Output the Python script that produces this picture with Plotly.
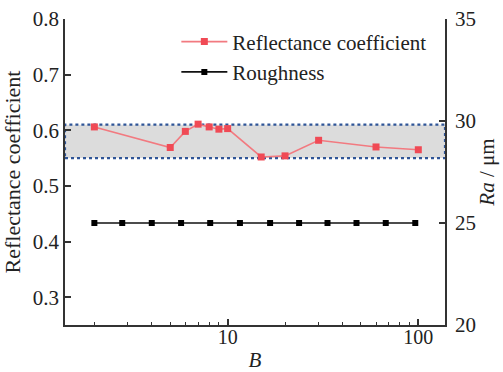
import plotly.graph_objects as go

# Data
b_refl = [2, 5, 6, 7, 8, 9, 10, 15, 20, 30, 60, 100]
refl = [0.606, 0.569, 0.598, 0.611, 0.606, 0.602, 0.603, 0.552, 0.554, 0.582, 0.570, 0.565]
b_rough = [2.0, 2.8, 4.0, 5.7, 8.1, 11.6, 16.7, 23.7, 33.4, 47.4, 67.5, 96.4]
rough = [25, 25, 25, 25, 25, 25, 25, 25, 25, 25, 25, 25]
band = [0.55, 0.61]
x_major = [10, 100]
x_minor = [2, 3, 4, 5, 6, 7, 8, 9, 20, 30, 40, 50, 60, 70, 80, 90]
y_left_ticks = [0.3, 0.4, 0.5, 0.6, 0.7, 0.8]
y_right_ticks = [20, 25, 30, 35]

FONT = "Liberation Serif"
AX = "#333333"
TXT = "#222222"

def f(size):
    return dict(family=FONT, size=size, color=TXT)

fig = go.Figure()
fig.add_trace(go.Scatter(
    x=b_refl, y=refl, mode="lines+markers", name="Reflectance coefficient",
    line=dict(color="#f27a80", width=1.6),
    marker=dict(symbol="square", size=7, color="#f04a55"),
    yaxis="y"))
fig.add_trace(go.Scatter(
    x=b_rough, y=rough, mode="lines+markers", name="Roughness",
    line=dict(color="#111111", width=1.6),
    marker=dict(symbol="square", size=6, color="#000000"),
    yaxis="y2"))

fig.add_shape(type="rect", xref="paper", yref="y", x0=0, x1=1, y0=band[0], y1=band[1],
              fillcolor="#dcdcdc", line=dict(color="#2f5597", width=2.2, dash="dot"),
              layer="below")

fig.update_layout(
    template="none",
    width=503, height=372,
    margin=dict(l=65, r=58, t=19, b=47, autoexpand=False),
    paper_bgcolor="white", plot_bgcolor="white",
    font=f(20),
    showlegend=True,
    legend=dict(x=0.293, y=0.992, xanchor="left", yanchor="top",
                bgcolor="rgba(0,0,0,0)", font=f(21),
                tracegroupgap=0, itemwidth=46),
    xaxis=dict(type="log", range=[0.147, 2.14], tickvals=x_major, ticktext=["10", "100"],
               ticks="inside", ticklen=6, tickwidth=1.5, tickcolor=AX,
               showline=True, linecolor=AX, linewidth=1.8, mirror=False,
               showgrid=False, zeroline=False, automargin=False,
               ticklabelstandoff=-7,
               minor=dict(tickvals=x_minor, ticks="inside", ticklen=3, tickwidth=1.2, tickcolor=AX, showgrid=False),
               title=dict(text="<i>B</i>", font=f(21), standoff=12),
               tickfont=f(20)),
    yaxis=dict(range=[0.25, 0.8], tickvals=y_left_ticks, ticktext=["0.3", "0.4", "0.5", "0.6", "0.7", "0.8"],
               ticks="inside", ticklen=6, tickwidth=1.5, tickcolor=AX,
               showline=True, linecolor=AX, linewidth=1.8,
               showgrid=False, zeroline=False, automargin=False,
               title=dict(text="Reflectance coefficient", font=f(22), standoff=6),
               tickfont=f(21)),
    yaxis2=dict(range=[20, 35], tickvals=y_right_ticks, overlaying="y", side="right",
                ticks="inside", ticklen=6, tickwidth=1.5, tickcolor=AX,
                showline=True, linecolor=AX, linewidth=1.8,
                showgrid=False, zeroline=False, automargin=False,
                ticklabelstandoff=4,
                title=dict(text="<i>Ra</i> / μm", font=f(21), standoff=4),
                tickfont=f(21)),
)

fig.write_html("out.html")
